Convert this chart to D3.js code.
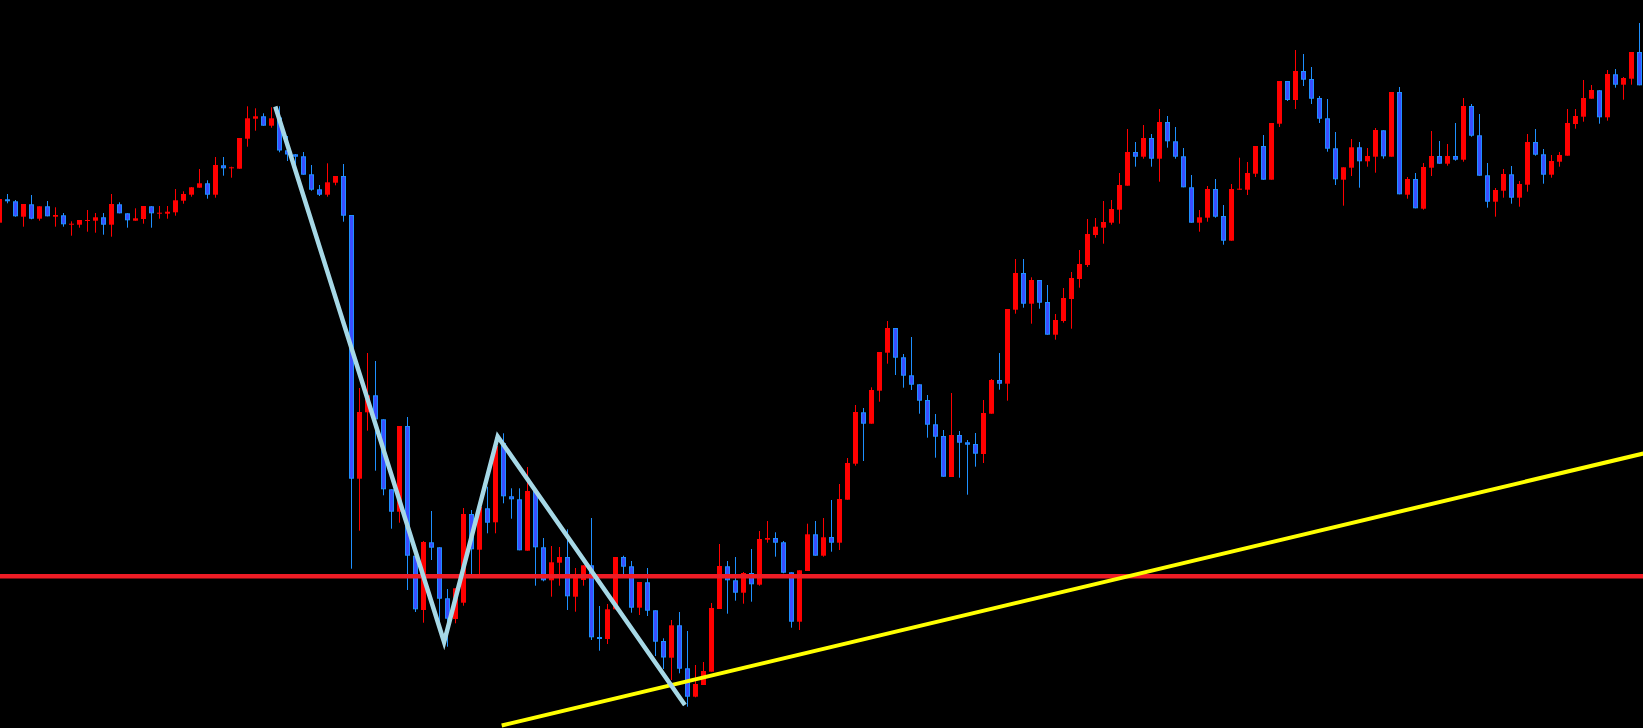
<!DOCTYPE html>
<html>
<head>
<meta charset="utf-8">
<script src="https://cdn.jsdelivr.net/npm/d3@7/dist/d3.min.js"></script>
<style>
html,body{margin:0;padding:0;background:#000;overflow:hidden;}
svg{display:block;}
</style>
</head>
<body>
<svg id="chart" width="1643" height="728"></svg>
<script>
// Candle index of first entry
const firstIndex = -1;

const opens = [
505.3,528.7,526.7,511.3,523.7,509.3,521.7,511.3,512.7,503.3,
503.3,507.3,507.3,510.7,503.3,523.7,514.7,507.3,509,521.7,
514.3,514.3,515.7,527.3,533.3,540.3,544.7,533.3,562.7,560,
559.3,589.3,609.3,611.7,602.3,610.5,577.7,573.7,571.7,553.7,
538.7,533.3,545.3,552,513,249.3,315.7,332.7,308.7,238.7,
216.3,302,172.3,118,185.7,180.7,129.7,109,125.3,214,
178.3,219.7,205.7,285,231.7,228.7,177.3,237,180.7,147.7,
165.3,171,131.3,148,162.7,91,89,118.7,171,161.7,
120.3,145.7,117.7,87,70.3,102.7,59.7,31.3,43,56.3,
119,161.7,147.7,135.3,155,143.3,188.3,190,185.7,155.7,
106.3,157,193.7,172.3,191,185.3,228.3,264.3,315.7,304.3,
337.3,375.3,400,370.7,352.7,343.7,328,303.7,292,251,
293,285.7,284,274,314.3,348,344.3,418.3,455,424.3,
448,426,393.3,407,429,449,463,493,500.3,505.3,
518.3,542.3,576,571.3,590,569.3,606,586.7,571.7,540.7,
505.3,510.3,539,512,487.3,538.3,538.3,554.3,582,548.3,
604.3,647,628,657,649,630,609.7,579.7,548.3,560.3,
580.7,566.7,571.3,597.7,571.3,636,533.3,549,519.3,560.3,
572,564.3,572,568.3,622,592.7,552.7,526.3,537.3,553.7,
530.3,543.3,586,573.7,553.3,566.3,572.3,604,611.3,629.3,
637.7,610.7,653.7,643.3,649.3,676
];
const highs = [
529,534,528,524,533,521.7,527,520.7,515,506.7,
508,518,515,515,534,525.7,514.7,519.7,522,521.7,
522,522,539,536.7,541,559,547.7,571,571,561.3,
590,621.7,619.7,614.7,620.7,621.7,592,574,576,563,
543,564.7,552,564,513,340,375,367,308.7,238.7,
302,311,172.3,187,217,180.7,139,139.7,220,218,
224,241.3,291,294.7,239.7,239.7,261,237,190,182,
181,198.7,160,162.7,210,122,124,171,172.3,167,
146,160,117.7,89.7,108,116,97,63,66,125,
184,167,171,156,179,197,207,195.7,187,155.7,
157.7,204.3,207,210,228,244,270,323,320,340.7,
376,407,400,374,391,343.7,333,314,298,335,
297,288,295,328,349,375,419,469,469,450.7,
448,443,414,440,456,478,509,510,527,528,
555,599,586,603,594,619,612,601,580,553,
518,542,549,523,544,570.3,566,582,593,605,
647,647,678,674,661,632,629,596,560.7,589,
586,580,600,597.7,636,641,551,555,565,597,
587,584,605,630,624,614,565,540,559,562,
547,594,599,579,573,576,619,619,648,643,
637.7,658,659,651,676,705
];
const lows = [
502,524.7,511.3,501.3,508.7,507.3,511.7,501.3,501.3,492.3,
500.3,496.3,495.3,493.3,491.3,514.7,500.3,507.3,504.3,500.3,
509.3,509.3,512.3,524.3,531.3,540.3,529.3,530.3,552.3,550.3,
559.3,581.3,597.3,602.3,600.3,575.7,567,558,553.3,537.3,
532,531.3,542.7,506.3,159.3,197.3,297.3,257.3,232.7,199.3,
205.3,138,116,105.3,168,106.3,81.3,104.7,122.3,153,
153,194.7,194.7,224.7,209.3,177.7,177.3,142.3,146.7,131.3,
142.3,118,116.3,142.3,88,77.3,84,118.7,154,115.3,
113,112,72,59,48,54.7,21.3,30.7,43,56.3,
119,114.3,127.3,124.3,126.3,142.3,185.3,171.3,154.7,100.3,
98,157,172.3,171.3,176.3,178,228.3,262.3,267,304.3,
326.3,364.3,353,340.3,338,314.3,290.3,270.3,251.3,251,
250.3,233.3,261.3,265,314.3,338.3,327.3,414.3,420.3,404.3,
419.3,393.3,388.3,405.3,399.3,440.3,461,490.3,484.3,503.3,
504.3,542.3,561.3,569.3,561.3,546.3,580.3,569.3,540.7,505.3,
496.3,506.3,510.3,483.3,487.3,538.3,533,551,548.3,548.3,
601,627,619,642,624,605,576.3,543,522.3,552,
540.3,561.3,555.3,569.3,571.3,533.7,529.3,519.7,518.3,552,
564.3,562.3,567.3,566.3,591.3,552.3,520.3,511.3,530.3,524.3,
521.3,536.3,572.3,544.3,550.3,561.3,572.3,599.3,606.3,629.3,
604.3,607.3,640.3,628.3,643.3,642.7
];
const closes = [
529,526.7,511.7,524,509.3,521.7,511.7,513,503.7,504.3,
508,508,510.7,503.3,524,514.7,507.7,509.7,522,514.7,
515.3,516.3,527.7,534,540.7,544.7,533.3,563,559.7,560.7,
590,609.7,611.7,602.3,609.7,577.5,573.5,571.3,553.3,538.3,
533.3,545.7,552,512.3,249.3,316,332.7,308.7,238.7,216.3,
302,172.3,118.7,186,180.3,129.3,109.3,139.7,214,178.7,
221,205.3,282,231.7,228.7,177.7,237,180.7,147.7,165.7,
171,131.7,153,162.7,90.7,89.7,118.7,171,161.3,120.3,
146,117.3,86.3,70.5,102.7,59.3,31.3,44,57,120,
162,147.7,135.3,155,143.7,189,190,185.3,155.3,106.3,
157.7,193.7,172.3,190.7,185.3,229,265,316,304.3,338,
376,400,370.3,352.3,343.3,327.3,303.3,291.3,251.3,293,
285.3,283.3,274.3,315,348,344.3,419,455,424.3,448,
425.3,393.3,408,430,450,464,494,501.3,506,519,
543,576,571.3,590,569.3,606,586.7,571.3,540.7,505.3,
510.7,539,511.3,487.3,539,539.3,555,582,548.3,605,
647,628,657,648.3,629.3,609.3,579.3,548.7,560.7,580.7,
566.7,572,598,571.7,636,533.7,549,519.7,561,572,
564.3,572,568.3,622,592.3,552.3,526.3,538,554,530.3,
544,586,573.3,553.3,567,573,605,612,630,638,
610.7,654,643.3,650,676,642.7
];

// Horizontal support level
const levelPrice = 151.7;
// Rising trend line anchors (candle index, price)
const trendIdx = [61.8, 204.5];
const trendPrice = [2.5, 274.5];
// ZigZag swing points (candle index, price)
const zigIdx = [33.5, 54.6, 61.3, 84.7];
const zigPrice = [621.5, 86, 291.5, 23];

const W = 1643, H = 728;
const svg = d3.select("#chart");
svg.append("rect").attr("width", W).attr("height", H).attr("fill", "#000");

const x = d3.scaleLinear().domain([0, 204]).range([7.3, 1639.3]);
const y = d3.scaleLinear().domain([0, 728]).range([H, 0]);

const candles = opens.map((o, k) => ({
  i: k + firstIndex, o, h: highs[k], l: lows[k], c: closes[k]
}));

const RED = "#ff0000", BLUE_FILL = "#3a4eff", BLUE_EDGE = "#1e90ff";

const g = svg.append("g");
const cg = g.selectAll("g.candle").data(candles).join("g").attr("class", "candle");

cg.append("line")
  .attr("x1", d => Math.floor(x(d.i)) + 0.5)
  .attr("x2", d => Math.floor(x(d.i)) + 0.5)
  .attr("y1", d => y(d.h))
  .attr("y2", d => y(d.l))
  .attr("stroke", d => d.c >= d.o ? RED : BLUE_EDGE)
  .attr("stroke-width", 1);

cg.append("rect")
  .attr("x", d => d.c >= d.o ? Math.floor(x(d.i)) - 2 : Math.floor(x(d.i)) - 1.5)
  .attr("width", d => d.c >= d.o ? 5 : 4)
  .attr("y", d => {
    const t = y(Math.max(d.o, d.c));
    return d.c >= d.o ? t : t + 0.5;
  })
  .attr("height", d => {
    const hgt = Math.abs(y(d.o) - y(d.c));
    return d.c >= d.o ? Math.max(1, hgt) : Math.max(1, hgt - 1);
  })
  .attr("fill", d => d.c >= d.o ? RED : BLUE_FILL)
  .attr("stroke", d => d.c >= d.o ? "none" : BLUE_EDGE)
  .attr("stroke-width", 1);

// Horizontal red level
svg.append("line")
  .attr("x1", 0).attr("x2", W)
  .attr("y1", y(levelPrice)).attr("y2", y(levelPrice))
  .attr("stroke", "#ee1c25").attr("stroke-width", 4.5);

// Yellow trend line
const lineGen = d3.line().x(d => x(d[0])).y(d => y(d[1]));
svg.append("path")
  .attr("d", lineGen(trendIdx.map((v, k) => [v, trendPrice[k]])))
  .attr("fill", "none")
  .attr("stroke", "#ffff00").attr("stroke-width", 4);

// ZigZag
svg.append("path")
  .attr("d", lineGen(zigIdx.map((v, k) => [v, zigPrice[k]])))
  .attr("fill", "none")
  .attr("stroke", "#a6d8e6").attr("stroke-width", 4.5)
  .attr("stroke-linejoin", "miter");
</script>
</body>
</html>
